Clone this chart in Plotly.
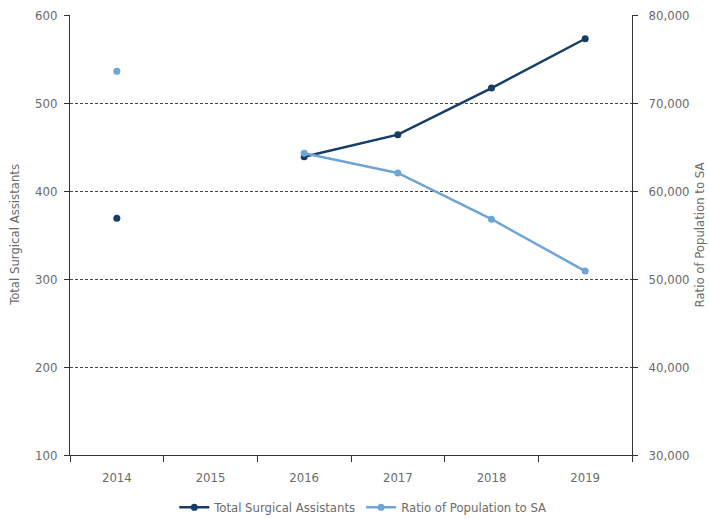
import plotly.graph_objects as go

years = ["2014", "2015", "2016", "2017", "2018", "2019"]
total_sa = [369, None, 439, 464, 517, 573]
ratio_pop = [73600, None, 64300, 62050, 56800, 50900]

FONT = "DejaVu Sans Condensed, Liberation Sans Narrow, Roboto, sans-serif"
GRAY = "#6b6b6b"
DARK = "#173d66"
LIGHT = "#6ea5d6"

fig = go.Figure()
fig.add_trace(go.Scatter(x=years, y=total_sa, name="Total Surgical Assistants",
                         mode="lines+markers", line=dict(color=DARK, width=2.5),
                         marker=dict(size=7, color=DARK), connectgaps=False))
fig.add_trace(go.Scatter(x=years, y=ratio_pop, name="Ratio of Population to SA",
                         mode="lines+markers", line=dict(color=LIGHT, width=2.5),
                         marker=dict(size=7, color=LIGHT), connectgaps=False, yaxis="y2"))

fig.update_layout(
    width=709, height=519,
    margin=dict(l=70, r=77, t=15, b=64, autoexpand=False),
    paper_bgcolor="white", plot_bgcolor="white",
    font=dict(family=FONT, size=13, color=GRAY),
    showlegend=True,
    legend=dict(orientation="h", x=0.521, xanchor="center", y=-0.085, yanchor="top",
                font=dict(size=13, color=GRAY), tracegroupgap=0),
    xaxis=dict(type="category", range=[-0.5, 5.5], showline=True, linecolor="#333", linewidth=1,
               ticks="outside", tickson="boundaries", ticklen=6, tickcolor="#333",
               showgrid=False, tickfont=dict(size=13, color=GRAY), automargin=False,
               ticklabelstandoff=10),
    yaxis=dict(range=[100, 600], dtick=100, showline=True, linecolor="#333", linewidth=1,
               ticks="outside", ticklen=5, tickcolor="#333",
               showgrid=True, gridcolor="#444", griddash="3px,2px", gridwidth=1,
               zeroline=False, tickfont=dict(size=13, color=GRAY), automargin=False,
               ticklabelstandoff=4),
    yaxis2=dict(range=[30000, 80000], dtick=10000, overlaying="y", side="right",
                showline=True, linecolor="#333", linewidth=1,
                ticks="outside", ticklen=5, tickcolor="#333", showgrid=False,
                zeroline=False, tickformat=",d", tickfont=dict(size=13, color=GRAY),
                automargin=False, ticklabelstandoff=8),
    annotations=[
        dict(text="Total Surgical Assistants", xref="paper", yref="paper",
             x=-0.1, y=0.5, xanchor="center", yanchor="middle", textangle=-90,
             showarrow=False, font=dict(size=13, color=GRAY)),
        dict(text="Ratio of Population to SA", xref="paper", yref="paper",
             x=1.12, y=0.5, xanchor="center", yanchor="middle", textangle=-90,
             showarrow=False, font=dict(size=13, color=GRAY)),
    ],
)

fig.write_html("out.html", config={"displayModeBar": False},
               post_script="document.body.style.margin='0';")
